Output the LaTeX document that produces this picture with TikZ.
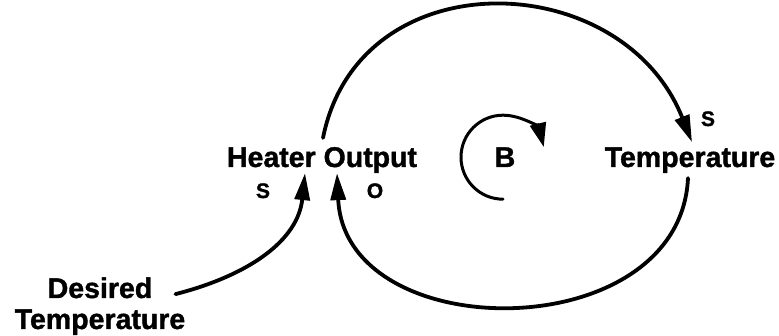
\documentclass[tikz,border=0pt]{standalone}
\usepackage{fontspec}
\setmainfont{Liberation Sans}[BoldFeatures={FakeBold=1.3}]
\usetikzlibrary{positioning,calc,arrows.meta}
\definecolor{LoopInk}{HTML}{000000}

\begin{document}
\begin{tikzpicture}[x=1pt,y=-1pt,line cap=round,line join=round,
  varlabel/.style={font=\fontsize{28.5}{31}\selectfont\bfseries,inner sep=0pt,anchor=base},
  polarity/.style={font=\fontsize{21}{23}\selectfont\bfseries,inner sep=0pt,anchor=base},
  link/.style={LoopInk,line width=3.8pt,-{Triangle[length=27pt,width=15pt]}},
  loopmark/.style={LoopInk,line width=3pt,-{Triangle[length=24pt,width=16pt]}}]
  \useasboundingbox (0,0) rectangle (779,336);
  % pixel coordinates, y runs downwards
  \node[varlabel] (heater) at (322,167) {Heater Output};
  \node[varlabel] (temp) at (690,167) {Temperature};
  \node[varlabel,align=center] (desired) at (100,329) {Desired\\Temperature};
  \node[varlabel] (loop) at (505,167) {B};
  \node[polarity] (sdes) at (263,198) {S};
  \node[polarity] (oback) at (375,198) {O};
  \node[polarity] (sheat) at (708,126) {S};
  \draw[link] ($(heater.north)+(1,-9)$) .. controls (359,-42) and (622,-34) .. ($(temp.north)+(2,-5)$);
  \draw[link] ($(temp.south)+(-2,5)$) .. controls (680,348) and (345,348) .. ($(heater.south)+(15,0)$);
  \draw[link] ($(desired.east)+(-10,-12)$) .. controls (250,275) and (298,240) .. ($(heater.south)+(-17,0)$);
  \draw[loopmark] ($(loop.center)+(-2,42)$) arc[start angle=90,end angle=346,radius=42];
\end{tikzpicture}
\end{document}
